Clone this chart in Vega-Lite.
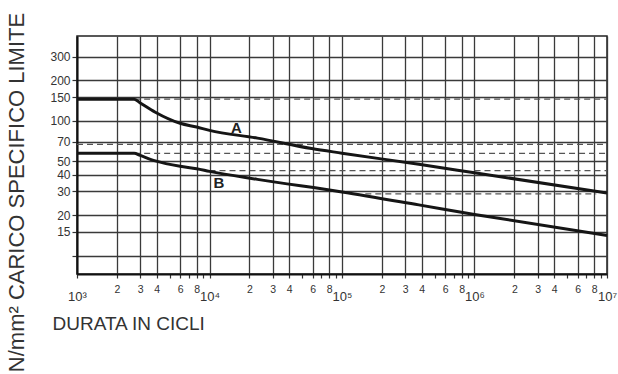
{
  "$schema": "https://vega.github.io/schema/vega-lite/v6.json",
  "width": 530,
  "height": 238,
  "autosize": "none",
  "padding": {"left": 77, "top": 36, "right": 11, "bottom": 100},
  "background": "white",
  "config": {
    "view": {"stroke": "#222", "strokeWidth": 1.5},
    "font": "Liberation Sans"
  },
  "datasets": {
    "curves": [
      {"curve": "A", "n": 1000, "s": 145},
      {"curve": "A", "n": 2700, "s": 145},
      {"curve": "A", "n": 3000, "s": 136},
      {"curve": "A", "n": 3900, "s": 116},
      {"curve": "A", "n": 6000, "s": 96},
      {"curve": "A", "n": 8000, "s": 90},
      {"curve": "A", "n": 10000, "s": 85},
      {"curve": "A", "n": 23000, "s": 74.5},
      {"curve": "A", "n": 59000, "s": 62.3},
      {"curve": "A", "n": 100000, "s": 57.6},
      {"curve": "A", "n": 380000, "s": 47.6},
      {"curve": "A", "n": 1000000, "s": 41.2},
      {"curve": "A", "n": 10000000, "s": 29.2},
      {"curve": "B", "n": 1000, "s": 57.5},
      {"curve": "B", "n": 2700, "s": 57.5},
      {"curve": "B", "n": 3000, "s": 55.4},
      {"curve": "B", "n": 3900, "s": 50.5},
      {"curve": "B", "n": 6000, "s": 46},
      {"curve": "B", "n": 8000, "s": 44.2},
      {"curve": "B", "n": 10000, "s": 42.2},
      {"curve": "B", "n": 23000, "s": 36.8},
      {"curve": "B", "n": 100000, "s": 29.7},
      {"curve": "B", "n": 380000, "s": 23.8},
      {"curve": "B", "n": 1000000, "s": 20.2},
      {"curve": "B", "n": 10000000, "s": 14.1}
    ],
    "dashes": [
      {"s": 145, "n": 2700, "n2": 10000000},
      {"s": 67, "n": 1000, "n2": 10000000},
      {"s": 57.5, "n": 2700, "n2": 70000},
      {"s": 57.5, "n": 160000, "n2": 10000000},
      {"s": 42.7, "n": 10000, "n2": 500000},
      {"s": 42.7, "n": 1000000, "n2": 10000000},
      {"s": 28.7, "n": 150000, "n2": 8300000}
    ],
    "labels": [
      {"label": "A", "n": 16000, "s": 89},
      {"label": "B", "n": 11800, "s": 34.3}
    ]
  },
  "encoding": {
    "x": {
      "field": "n",
      "type": "quantitative",
      "scale": {"type": "log", "domain": [1000, 10000000], "nice": false},
      "axis": {
        "title": "DURATA IN CICLI",
        "titleFont": "Liberation Sans",
        "titleFontSize": 19,
        "titleFontWeight": "normal",
        "titleColor": "#333",
        "titleAlign": "left",
        "titleBaseline": "middle",
        "titleX": -25,
        "titleY": 49,
        "values": [1000, 2000, 3000, 4000, 5000, 6000, 7000, 8000, 9000, 10000, 20000, 30000, 40000, 50000, 60000, 70000, 80000, 90000, 100000, 200000, 300000, 400000, 500000, 600000, 700000, 800000, 900000, 1000000, 2000000, 3000000, 4000000, 5000000, 6000000, 7000000, 8000000, 9000000, 10000000],
        "labelExpr": "round(datum.value / pow(10, floor(log(datum.value)/LN10 + 1e-6))) == 1 ? '10' + ['⁰','¹','²','³','⁴','⁵','⁶','⁷','⁸'][round(log(datum.value)/LN10)] : (indexof([5,7,9], round(datum.value / pow(10, floor(log(datum.value)/LN10 + 1e-6)))) >= 0 ? '' : '' + round(datum.value / pow(10, floor(log(datum.value)/LN10 + 1e-6))))",
        "labelFont": "Liberation Sans",
        "labelColor": "#333",
        "labelFontSize": {"condition": {"test": "round(datum.value / pow(10, floor(log(datum.value)/LN10 + 1e-6))) == 1", "value": 13}, "value": 10.5},
        "labelPadding": {"condition": {"test": "round(datum.value / pow(10, floor(log(datum.value)/LN10 + 1e-6))) == 1", "value": 12}, "value": 6},
        "labelFlush": false,
        "labelOverlap": false,
        "grid": true,
        "gridColor": "#3a3a3a",
        "gridWidth": 1.3,
        "gridOpacity": {"condition": {"test": "indexof([5,7,9], round(datum.value / pow(10, floor(log(datum.value)/LN10 + 1e-6)))) >= 0", "value": 0}, "value": 1},
        "domainColor": "#111",
        "domainWidth": 2,
        "tickColor": "#333",
        "tickSize": 4,
        "tickWidth": 1.2
      }
    },
    "y": {
      "field": "s",
      "type": "quantitative",
      "scale": {"type": "log", "domain": [7.3, 427], "nice": false, "zero": false},
      "axis": {
        "title": "N/mm² CARICO SPECIFICO LIMITE",
        "titleFont": "Liberation Sans",
        "titleFontSize": 22,
        "titleFontWeight": "normal",
        "titleColor": "#333",
        "titleAngle": -90,
        "titleAlign": "center",
        "titleBaseline": "middle",
        "titleX": -61,
        "titleY": 156,
        "values": [10, 15, 20, 30, 40, 50, 70, 100, 150, 200, 300],
        "labelExpr": "datum.value == 10 ? '' : '' + datum.value",
        "labelFont": "Liberation Sans",
        "labelFontSize": 12,
        "labelColor": "#333",
        "labelPadding": 2,
        "grid": true,
        "gridColor": "#3a3a3a",
        "gridWidth": 1.3,
        "domainColor": "#111",
        "domainWidth": 2,
        "tickColor": "#333",
        "tickSize": 5,
        "tickWidth": 1.2
      }
    }
  },
  "layer": [
    {
      "data": {"name": "dashes"},
      "mark": {"type": "rule", "stroke": "#555", "strokeWidth": 1.2, "strokeDash": [6, 4]},
      "encoding": {"x2": {"field": "n2"}}
    },
    {
      "data": {"name": "curves"},
      "mark": {"type": "line", "stroke": "#151515", "strokeWidth": 3, "interpolate": "monotone"},
      "encoding": {"detail": {"field": "curve", "type": "nominal"}}
    },
    {
      "data": {"name": "labels"},
      "mark": {"type": "text", "fontSize": 15, "fontWeight": "bold", "font": "Liberation Sans", "color": "#222"},
      "encoding": {"text": {"field": "label", "type": "nominal"}}
    }
  ]
}
